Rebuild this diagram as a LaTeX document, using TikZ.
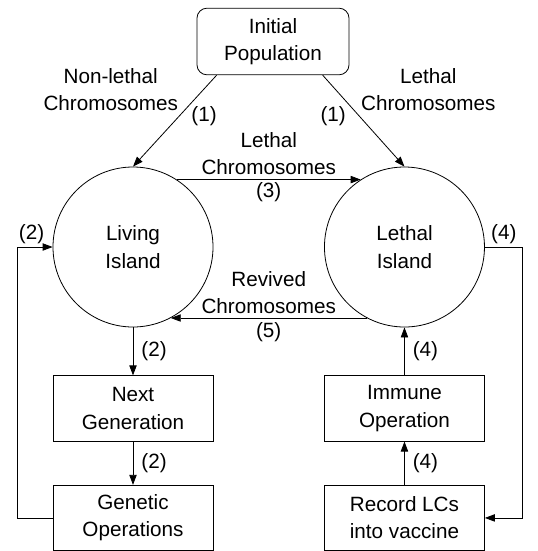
\documentclass[tikz,border=0pt]{standalone}
\usepackage{fontspec}
\setmainfont{Liberation Sans}
\usepackage{tikz}
\usetikzlibrary{positioning,calc,arrows.meta}
\newcommand{\diafont}{\fontsize{15.5}{20.5}\selectfont}
\tikzset{
    island/.style={
        circle,
        draw,
        minimum size=120pt,
        inner sep=0pt,
        align=center
    },
    initbox/.style={
        rectangle,
        rounded corners=7.5pt,
        draw,
        minimum width=114pt,
        minimum height=50pt,
        align=center
    },
    procbox/.style={
        rectangle,
        draw,
        minimum width=120pt,
        minimum height=49pt,
        align=center
    },
    ptr/.style={
        -{Triangle[length=7.5pt,width=5.5pt]},
        line width=0.6pt
    },
    lbl/.style={align=center, inner sep=2pt}
}

\begin{document}
\begin{tikzpicture}[x=0.75pt, y=-0.75pt, font=\diafont, line width=0.6pt]
    \useasboundingbox (0,0) rectangle (538,551);
    % Nodes
    \node[initbox] (init) at (273,41.5) {Initial\\Population};
    \node[island] (living) at (133,247) {Living\\Island};
    \node[island, right=83pt of living] (lethal) {Lethal\\Island};
    \node[procbox, below=36pt of living] (nextgen) {Next\\Generation};
    \node[procbox, below=32.5pt of nextgen] (genetic) {Genetic\\Operations};
    \node[procbox, below=36pt of lethal] (immune) {Immune\\Operation};
    \node[procbox, below=32.5pt of immune] (record) {Record LCs\\into vaccine};

    % Splitting the initial population
    \draw[ptr] ([xshift=15pt]init.south west) -- (living.north)
        node[lbl, pos=0.155, left=17pt] {Non-lethal\\Chromosomes}
        node[lbl, pos=0.45, right=7pt] {(1)};
    \draw[ptr] ([xshift=-20pt]init.south east) -- (lethal.north)
        node[lbl, pos=0.155, right=17pt] {Lethal\\Chromosomes}
        node[lbl, pos=0.45, left=8pt] {(1)};

    % Between the islands
    \draw[ptr] (living.57) -- (lethal.123)
        node[lbl, midway, above, inner sep=3pt] {Lethal\\Chromosomes}
        node[lbl, midway, below] {(3)};
    \draw[ptr] (lethal.242) -- (living.-62)
        node[lbl, midway, above, inner sep=3pt] {Revived\\Chromosomes}
        node[lbl, midway, below, inner sep=3pt] {(5)};

    % Living island loop
    \draw[ptr] (living) -- (nextgen) node[lbl, midway, right=4pt] {(2)};
    \draw[ptr] (nextgen) -- (genetic) node[lbl, midway, right=4pt] {(2)};
    \draw[ptr] (genetic.west) -- ++(-35,0) |- (living.west)
        node[lbl, pos=0.7, above] {(2)};

    % Lethal island loop
    \draw[ptr] (lethal.east) -- ++(38,0) node[lbl, midway, above] {(4)} |- (record.east);
    \draw[ptr] (record) -- (immune) node[lbl, midway, right=4pt] {(4)};
    \draw[ptr] (immune) -- (lethal) node[lbl, midway, right=4pt] {(4)};
\end{tikzpicture}
\end{document}
